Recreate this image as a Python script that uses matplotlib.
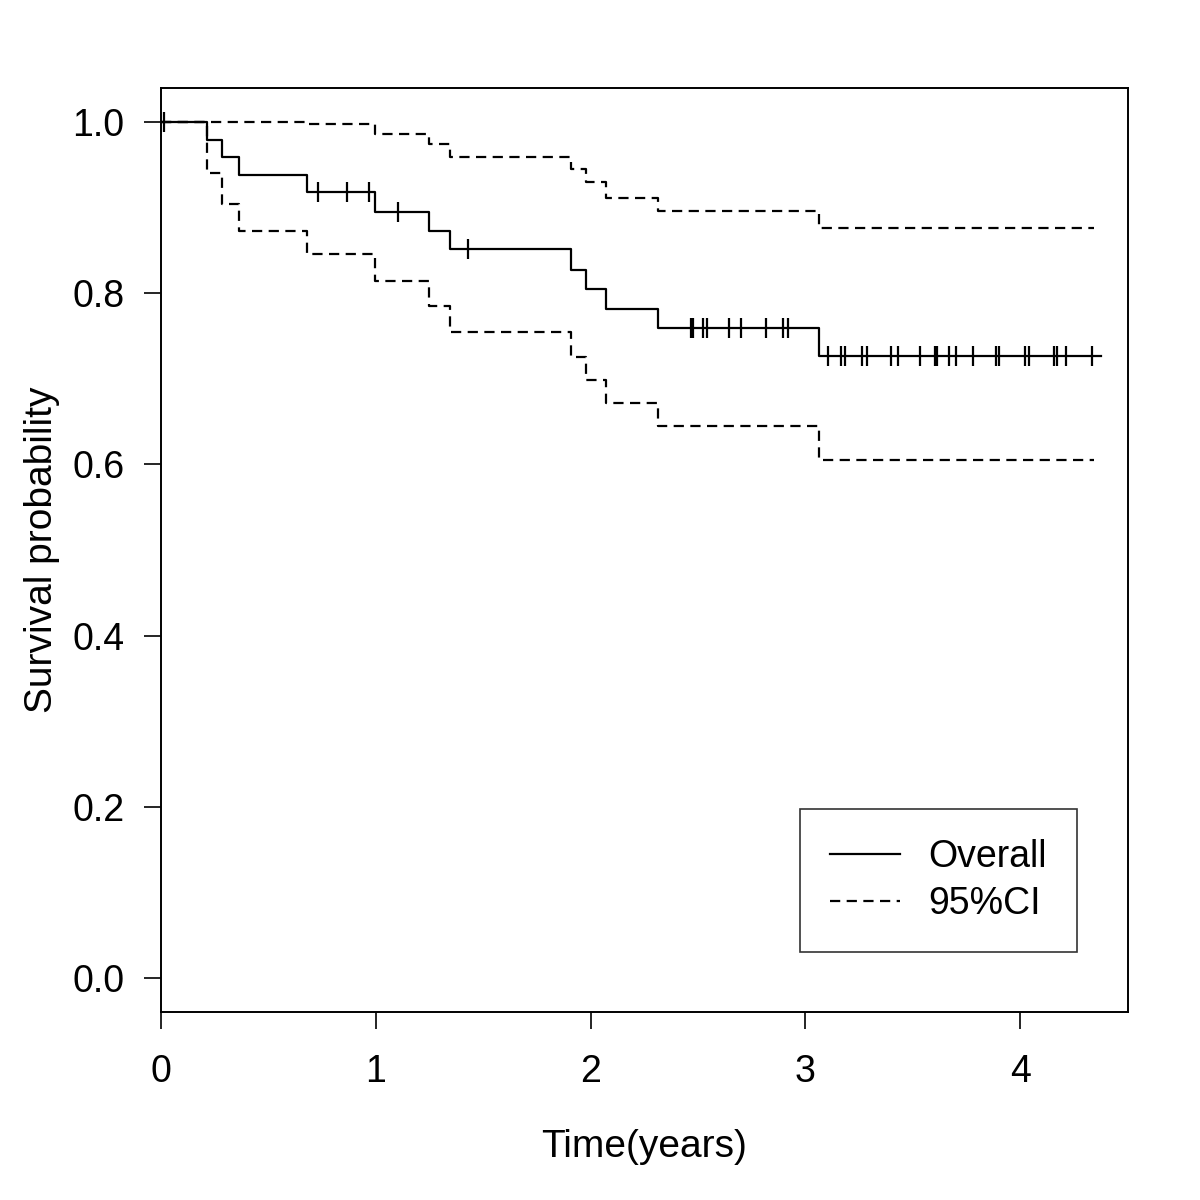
import numpy as np
import matplotlib
matplotlib.use("Agg")
import matplotlib.pyplot as plt
from matplotlib.lines import Line2D

plt.rcParams['font.family'] = ['Liberation Sans', 'DejaVu Sans']

# Kaplan-Meier estimates
event_times = [0.213, 0.284, 0.362, 0.681, 0.995, 1.246, 1.347, 1.910, 1.979, 2.072, 2.314, 3.063]
survival    = [0.979, 0.959, 0.938, 0.918, 0.895, 0.873, 0.852, 0.827, 0.805, 0.782, 0.760, 0.727]
upper_ci    = [1.000, 1.000, 1.000, 0.998, 0.986, 0.975, 0.959, 0.945, 0.930, 0.911, 0.896, 0.876]
lower_ci    = [0.941, 0.905, 0.873, 0.846, 0.814, 0.785, 0.755, 0.726, 0.699, 0.672, 0.645, 0.605]
censor_times = [0.014, 0.733, 0.866, 0.970, 1.102, 1.431,
                2.467, 2.475, 2.523, 2.540, 2.643, 2.700, 2.818, 2.894, 2.919,
                3.104, 3.166, 3.186, 3.265, 3.288, 3.399, 3.431, 3.533, 3.602, 3.611,
                3.670, 3.701, 3.779, 3.888, 3.902, 4.021, 4.040, 4.158, 4.173, 4.213, 4.334]
end_time = 4.375
ci_end_time = 4.345

x_ticks = [0, 1, 2, 3, 4]
y_ticks = [0.0, 0.2, 0.4, 0.6, 0.8, 1.0]
y_ticklabels = ["0.0", "0.2", "0.4", "0.6", "0.8", "1.0"]

fig = plt.figure(figsize=(12, 12), dpi=100)
ax = fig.add_axes([161/1200, 1 - 1012/1200, (1128-161)/1200, (1012-88)/1200])

def step_xy(vals, tend):
    xs = [0.0] + list(event_times) + [tend]
    ys = [1.0] + list(vals) + [vals[-1]]
    return xs, ys

lw = 1.6
dash = (0, (4.6, 2.9))
xs, ys = step_xy(survival, end_time)
ax.step(xs, ys, where='post', color='black', lw=lw)
for v in (upper_ci, lower_ci):
    xc, yc = step_xy(v, ci_end_time)
    ax.step(xc, yc, where='post', color='black', lw=lw, linestyle=dash)

# censor marks
ev = np.array(event_times)
sv = np.array([1.0] + survival)
ct = np.array(censor_times)
idx = np.searchsorted(ev, ct, side='right')
ax.plot(ct, sv[idx], linestyle='none', marker='|', markersize=14.5,
        markeredgewidth=lw, color='black')

ax.set_xlim(0, (1128-161)/214.8)
ax.set_ylim(-0.04, 1.04)
ax.set_xticks(x_ticks)
ax.set_xticklabels([str(t) for t in x_ticks])
ax.set_yticks(y_ticks)
ax.set_yticklabels(y_ticklabels)
ax.tick_params(direction='out', length=12.5, width=1.2, labelsize=27)
ax.tick_params(axis='y', pad=14)
ax.tick_params(axis='x', pad=18)
for s in ax.spines.values():
    s.set_linewidth(1.4)

ax.set_xlabel("Time(years)", fontsize=28, labelpad=28)
ax.set_ylabel("Survival probability", fontsize=28, labelpad=9)

handles = [Line2D([0], [0], color='black', lw=lw),
           Line2D([0], [0], color='black', lw=lw, linestyle=dash)]
leg = ax.legend(handles, ["Overall", "95%CI"], loc='lower right',
                bbox_to_anchor=((1077-161)/967, (1012-952)/924),
                fontsize=27, frameon=True, fancybox=False, edgecolor='black',
                handlelength=1.87, handletextpad=0.75, borderpad=0.8,
                labelspacing=0.3, borderaxespad=0)
leg.get_frame().set_linewidth(1.2)

fig.savefig("out.png", dpi=100, facecolor='white')
